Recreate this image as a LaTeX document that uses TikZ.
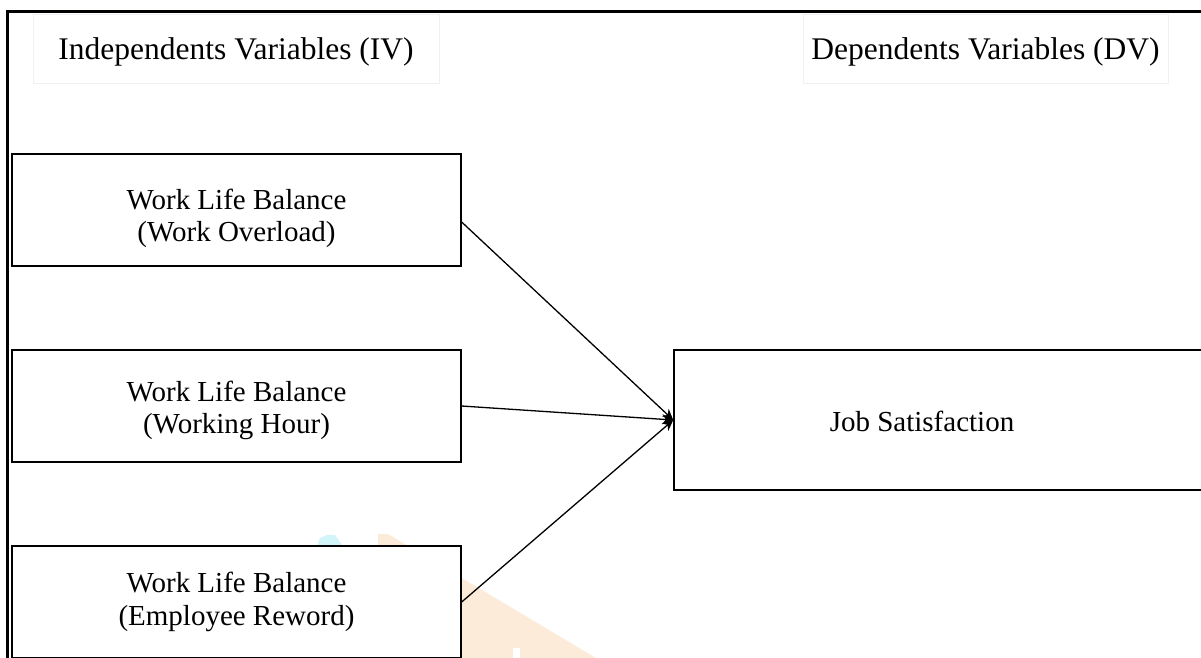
\documentclass[tikz,border=0pt]{standalone}
\usepackage{fontspec}
\setmainfont{Liberation Serif}
\usetikzlibrary{arrows.meta,calc}
\definecolor{wmorange}{HTML}{FDEBD9}
\definecolor{wmcyan}{HTML}{D2F5FA}
\definecolor{lblframe}{HTML}{EEF0F6}
\begin{document}
\begin{tikzpicture}[x=1pt,y=-1pt,
  varbox/.style={draw=black, line width=1.3pt, fill=white, minimum width=449pt, minimum height=112pt, align=center, inner sep=0pt, font=\fontsize{29}{32.5}\selectfont},
  lblbox/.style={draw=lblframe, line width=0.8pt, fill=white, minimum height=69pt, inner sep=0pt, text height=28pt, text depth=7pt, font=\fontsize{31.5}{36}\selectfont},
  jsbox/.style={draw=black, line width=1.5pt, fill=white, minimum width=600pt, minimum height=140pt, inner sep=0pt},
  jstext/.style={inner sep=0pt, font=\fontsize{29}{32}\selectfont},
  link/.style={line width=1.3pt, -{Stealth[length=11pt,width=10pt]}}]
\useasboundingbox (0,0) rectangle (1201,657);
\clip (0,0) rectangle (1201,657);
% faint watermark
\fill[wmorange] (378,546) -- (378,534) -- (388,534) -- (700,720) -- (378,720) -- cycle;
\fill[wmcyan] (317,546) -- (320,538) -- (327,535) -- (335,535) -- (343,546) -- cycle;
\fill[white] (513,648) rectangle (520,660);
% outer frame
\draw[line width=3pt] (7.5,700) -- (7.5,11) -- (1300,11);
% labels
\node[lblbox, minimum width=406pt] (iv) at (236,48.5) {Independents Variables (IV)};
\node[lblbox, minimum width=365pt] (dv) at (985.5,48.5) {Dependents Variables (DV)};
% boxes
\node[varbox, text height=70pt] (b1) at (236.5,210) {Work Life Balance\\(Work Overload)};
\node[varbox, text height=62pt] (b2) at (236.5,406) {Work Life Balance\\(Working Hour)};
\node[varbox] (b3) at (236.5,602) {Work Life Balance\\(Employee Reword)};
\node[jsbox] (js) at (974,420) {};
\node[jstext] (jst) at (922,421) {Job Satisfaction};
% connectors
\draw[link] ($(b1.east)+(0,12)$) -- (js.west);
\draw[link] (b2.east) -- (js.west);
\draw[link] (b3.east) -- (js.west);
\end{tikzpicture}
\end{document}
